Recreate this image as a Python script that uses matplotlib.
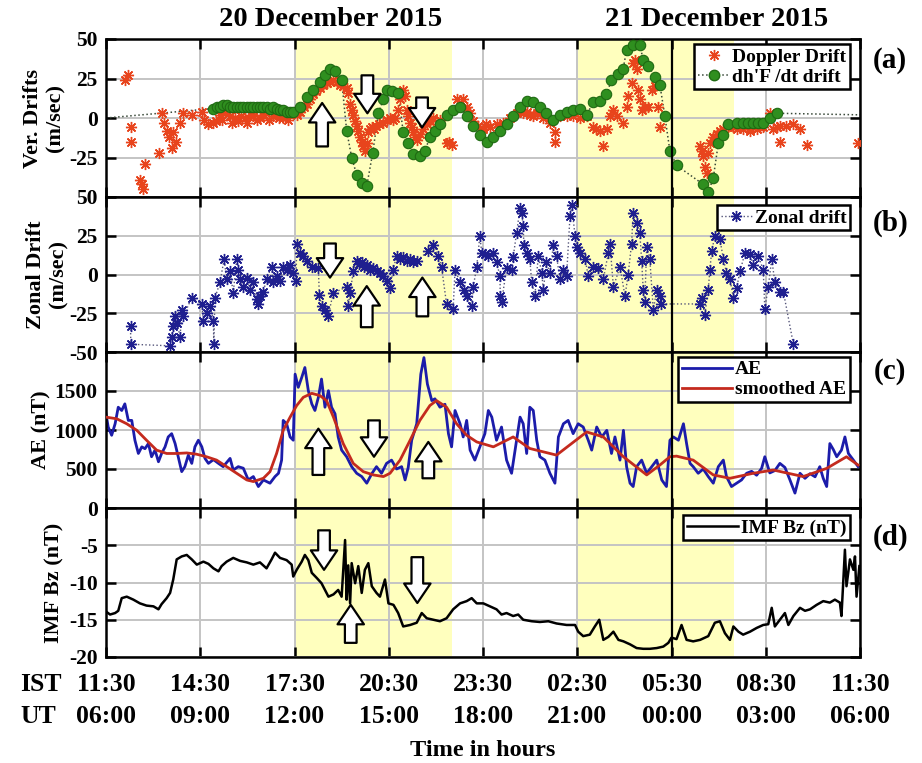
import matplotlib
matplotlib.use("Agg")
import matplotlib.pyplot as plt
import numpy as np
from matplotlib.lines import Line2D

plt.rcParams["font.family"] = ["Liberation Serif", "DejaVu Serif"]
plt.rcParams["font.weight"] = "bold"
plt.rcParams["axes.labelweight"] = "bold"

# Time axis: hours elapsed since 11:30 IST on 20 December 2015
tick_hours = [0, 3, 6, 9, 12, 15, 18, 21, 24]
ist_labels = ["11:30", "14:30", "17:30", "20:30", "23:30", "02:30", "05:30", "08:30", "11:30"]
ut_labels = ["06:00", "09:00", "12:00", "15:00", "18:00", "21:00", "00:00", "03:00", "06:00"]
storm_windows = [(6.0, 11.0), (15.0, 20.0)]
ut_midnight = 18.0

# (a) Doppler vertical drift (m/s)
doppler = [
    (0.60, 24), (0.69, 27), (0.78, -6), (0.79, -15), (1.08, -39), (1.14, -42), (1.19, -45),
    (1.24, -29), (1.69, -22), (1.78, 3), (1.85, -3), (1.93, -8), (2.00, -12), (2.09, -19),
    (2.14, -9), (2.23, -15), (2.36, -3), (2.44, 3), (2.73, 2), (3.05, 4), (3.12, -1),
    (3.26, -4), (3.42, -3), (3.50, -2), (3.63, 2), (3.70, -1), (3.80, 3), (3.95, 1),
    (4.00, -3), (4.10, 0), (4.21, -2), (4.30, 1), (4.42, 0), (4.50, -3), (4.60, 2),
    (4.69, 1), (4.80, -1), (4.90, 0), (5.01, 2), (5.10, 3), (5.20, -1), (5.33, 1),
    (5.40, 2), (5.50, 0), (5.64, 0), (5.70, 2), (5.80, -1), (5.91, 3), (6.07, 2),
    (6.17, 4), (6.30, 7), (6.39, 9), (6.50, 12), (6.60, 15), (6.70, 17), (6.81, 19),
    (6.92, 21), (7.02, 22), (7.13, 23), (7.24, 24), (7.35, 23), (7.45, 21), (7.55, 20),
    (7.66, 19), (7.71, 16), (7.77, 9), (7.82, 5), (7.87, 2), (7.93, -2), (7.98, -5),
    (8.03, -8), (8.08, -12), (8.14, -15), (8.19, -18), (8.24, -21), (8.30, -16),
    (8.35, -9), (8.40, -7), (8.46, -6), (8.53, -7), (8.61, -5), (8.70, -4), (8.83, -3),
    (8.93, -1), (9.04, 0), (9.12, -1), (9.20, 0), (9.30, 5), (9.36, 12), (9.46, 18),
    (9.52, 14), (9.57, 5), (9.62, 1), (9.68, -3), (9.73, -6), (9.78, -9), (9.84, -12),
    (9.89, -14), (9.99, -10), (10.10, -7), (10.21, -4), (10.31, -2), (10.42, 0),
    (10.63, -1), (10.84, -16), (10.92, -15), (11.00, -17), (11.16, 12), (11.37, 12),
    (11.48, 7), (11.59, 3), (11.69, -2), (11.85, -5), (12.01, -7), (12.10, -4),
    (12.22, -6), (12.43, -4), (12.65, -3), (12.86, 0), (13.07, 3), (13.18, 5),
    (13.28, 3), (13.40, 4), (13.49, 2), (13.60, 1), (13.71, 3), (13.92, 0), (14.13, -3),
    (14.29, -9), (14.30, -15), (14.45, 1), (14.66, 1), (14.87, 1), (15.09, 0), (15.30, 1),
    (15.51, -6), (15.60, -7), (15.72, -8), (15.83, -18), (15.94, -7), (16.04, 1),
    (16.15, 5), (16.25, 1), (16.47, -3), (16.57, 7), (16.62, 14), (16.73, 22),
    (16.78, 35), (16.84, 37), (16.89, 31), (16.94, 18), (17.00, 12), (17.05, 5),
    (17.16, 7), (17.26, 7), (17.37, 18), (17.47, 20), (17.58, 7), (17.63, -6),
    (18.91, -18), (18.96, -21), (19.01, -24), (19.06, -31), (19.12, -35), (19.17, -22),
    (19.22, -16), (19.33, -12), (19.44, -10), (19.55, -8), (19.65, -7), (19.81, -6),
    (19.95, -6), (20.07, -7), (20.18, -6), (20.28, -7), (20.40, -6), (20.50, -8),
    (20.60, -6), (20.71, -7), (20.82, -6), (20.92, -6), (21.13, 3), (21.24, -7),
    (21.35, -6), (21.45, -5), (21.45, -15), (21.66, -5), (21.88, -4), (22.09, -7),
    (22.30, -17), (23.94, -16),
]

# (a) dh'F/dt vertical drift (m/s)
dhf_drift = [
    (3.42, 6), (3.53, 7), (3.63, 7), (3.74, 8), (3.84, 8), (3.95, 7), (4.05, 7),
    (4.16, 7), (4.27, 7), (4.37, 7), (4.48, 7), (4.58, 7), (4.69, 7), (4.80, 7),
    (4.90, 7), (5.01, 7), (5.11, 7), (5.22, 6), (5.33, 7), (5.43, 6), (5.54, 5),
    (5.64, 5), (5.75, 4), (5.85, 4), (5.96, 4), (6.17, 7), (6.39, 13), (6.60, 18),
    (6.81, 23), (6.97, 27), (7.13, 31), (7.29, 30), (7.50, 24), (7.66, -8), (7.82, -25),
    (7.98, -36), (8.14, -41), (8.30, -43), (8.49, -22), (8.67, 3), (8.83, 12), (8.93, 18),
    (9.09, 17), (9.30, 16), (9.46, -9), (9.62, -16), (9.78, -23), (9.99, -24),
    (10.15, -21), (10.31, -12), (10.47, -8), (10.63, -4), (10.84, 2), (11.05, 5),
    (11.27, 7), (11.48, 1), (11.69, -5), (11.90, -11), (12.12, -15), (12.33, -12),
    (12.54, -8), (12.75, -4), (12.96, 1), (13.18, 7), (13.39, 11), (13.60, 10),
    (13.81, 7), (14.02, 3), (14.24, -1), (14.45, 2), (14.66, 4), (14.87, 5), (15.09, 6),
    (15.30, 2), (15.51, 10), (15.72, 11), (15.93, 15), (16.09, 24), (16.30, 28),
    (16.46, 31), (16.57, 43), (16.78, 46), (16.99, 46), (17.10, 37), (17.26, 33),
    (17.47, 26), (17.63, 21), (17.79, 1), (17.95, -21), (18.16, -30), (19.01, -42),
    (19.17, -47), (19.33, -38), (19.49, -16), (19.65, -11), (19.81, -4), (20.07, -3),
    (20.28, -3), (20.45, -3), (20.60, -3), (20.76, -3), (20.92, -3), (21.13, 0),
    (21.35, 3),
]
# ends of the dotted trace outside the sounding interval
dhf_trace_start = (0.0, 0.0)
dhf_trace_end = (24.0, 2.0)

# (b) zonal drift (m/s)
zonal = [
    (0.78, -33), (0.79, -45), (2.04, -46), (2.09, -40), (2.14, -33), (2.20, -27),
    (2.25, -31), (2.36, -40), (2.41, -23), (2.46, -27), (2.73, -15), (3.05, -19),
    (3.10, -30), (3.20, -25), (3.31, -20), (3.42, -30), (3.43, -45), (3.47, -15),
    (3.63, -5), (3.76, 10), (3.84, -3), (3.95, 2), (4.05, -12), (4.16, 10), (4.21, 3),
    (4.27, -3), (4.37, -8), (4.48, -2), (4.58, -10), (4.69, -5), (4.80, -16),
    (4.85, -19), (4.90, -14), (5.01, -11), (5.11, -3), (5.27, 5), (5.33, -5),
    (5.43, -1), (5.54, -4), (5.64, 5), (5.75, 3), (5.86, 6), (5.96, 1), (6.05, -4),
    (6.07, 20), (6.17, 14), (6.28, 12), (6.39, 9), (6.55, 5), (6.76, 4), (6.79, -13),
    (6.86, -20), (6.97, -23), (7.07, -27), (7.23, -12), (7.66, -8), (7.71, -20),
    (7.77, -12), (7.87, 2), (7.98, 9), (8.06, 7), (8.14, 8), (8.22, 5), (8.30, 6),
    (8.40, 3), (8.51, 4), (8.62, 2), (8.72, 1), (8.83, -1), (8.93, -4), (9.04, -9),
    (9.14, 3), (9.25, 12), (9.35, 10), (9.46, 11), (9.57, 9), (9.68, 10), (9.78, 8),
    (9.89, 9), (10.26, 15), (10.42, 19), (10.58, 12), (10.68, 5), (10.84, -19),
    (11.05, -22), (11.11, 3), (11.27, -5), (11.38, -10), (11.48, -14), (11.64, -20),
    (11.69, -8), (11.80, 5), (11.90, 25), (11.96, 14), (12.06, 13), (12.17, 12),
    (12.33, 14), (12.43, 8), (12.54, -1), (12.55, -14), (12.59, -18), (12.75, 4),
    (12.91, 3), (12.96, 11), (13.07, 27), (13.18, 43), (13.23, 40), (13.28, 31),
    (13.30, 19), (13.39, 14), (13.49, 10), (13.55, -5), (13.65, -14), (13.76, 12),
    (13.87, 1), (13.92, -10), (14.02, 8), (14.13, 1), (14.24, 19), (14.34, 12),
    (14.45, -3), (14.55, 3), (14.66, -1), (14.77, 38), (14.82, 45), (14.93, 25),
    (14.98, 18), (15.09, 14), (15.25, 10), (15.35, -1), (15.51, 5), (15.67, 4),
    (15.83, -3), (15.99, 14), (16.04, 20), (16.15, -8), (16.36, 5), (16.52, -14),
    (16.62, 0), (16.73, 20), (16.78, 40), (16.89, 33), (16.99, 27), (17.05, 9),
    (17.10, -10), (17.15, -18), (17.21, 18), (17.31, 10), (17.42, -23), (17.53, -10),
    (17.63, -14), (17.68, -19), (18.91, -19), (18.96, -15), (19.06, -26), (19.17, -10),
    (19.22, 3), (19.28, 15), (19.38, 25), (19.54, 23), (19.65, 10), (19.75, 1),
    (19.86, -3), (19.97, -15), (20.07, -9), (20.18, 2), (20.34, 14), (20.50, 13),
    (20.60, 6), (20.76, 12), (20.92, 3), (20.97, -22), (21.08, -8), (21.19, 10),
    (21.29, -5), (21.45, -11), (21.56, -11), (21.88, -45),
]

# (c) AE index (nT)
ae = [
    (0.00, 1208), (0.07, 1038), (0.18, 932), (0.29, 1080), (0.39, 1292), (0.50, 1250),
    (0.60, 1335), (0.71, 1123), (0.82, 1123), (0.92, 869), (1.03, 699), (1.14, 784),
    (1.24, 760), (1.35, 826), (1.45, 657), (1.56, 742), (1.67, 593), (1.77, 699),
    (1.88, 784), (1.98, 911), (2.09, 953), (2.20, 826), (2.30, 657), (2.41, 466),
    (2.51, 530), (2.62, 678), (2.73, 572), (2.83, 784), (2.94, 869), (3.05, 784),
    (3.15, 636), (3.26, 572), (3.42, 620), (3.58, 572), (3.73, 530), (3.95, 636),
    (4.05, 487), (4.21, 530), (4.37, 510), (4.53, 360), (4.69, 403), (4.85, 275),
    (5.01, 360), (5.22, 318), (5.38, 403), (5.49, 445), (5.59, 614), (5.64, 1123),
    (5.75, 1080), (5.86, 911), (5.96, 869), (6.02, 1716), (6.12, 1547), (6.23, 1674),
    (6.33, 1801), (6.44, 1504), (6.55, 1335), (6.65, 1250), (6.76, 1419), (6.86, 1653),
    (6.97, 1292), (7.08, 1504), (7.18, 1292), (7.29, 1208), (7.39, 911), (7.50, 742),
    (7.66, 657), (7.82, 530), (7.98, 445), (8.14, 403), (8.30, 318), (8.46, 440),
    (8.61, 530), (8.77, 445), (8.93, 572), (9.09, 614), (9.25, 500), (9.41, 530),
    (9.52, 360), (9.62, 520), (9.73, 869), (9.89, 1080), (10.02, 1716), (10.12, 1928),
    (10.23, 1589), (10.37, 1377), (10.47, 1400), (10.63, 1292), (10.79, 1330),
    (10.90, 953), (11.00, 784), (11.11, 1250), (11.27, 1080), (11.37, 911), (11.48, 1123),
    (11.59, 742), (11.74, 614), (11.90, 784), (12.06, 953), (12.17, 1250), (12.28, 1165),
    (12.43, 869), (12.59, 1038), (12.75, 614), (12.91, 445), (13.07, 869), (13.18, 1165),
    (13.28, 1080), (13.39, 699), (13.49, 1292), (13.60, 1250), (13.71, 869), (13.81, 657),
    (13.97, 614), (14.13, 445), (14.29, 318), (14.40, 911), (14.56, 1080), (14.71, 1123),
    (14.87, 953), (15.03, 1080), (15.19, 1038), (15.35, 869), (15.46, 742), (15.62, 1038),
    (15.78, 911), (15.94, 996), (16.09, 699), (16.20, 911), (16.36, 614), (16.47, 996),
    (16.57, 530), (16.68, 318), (16.78, 275), (16.89, 530), (17.05, 614), (17.21, 445),
    (17.37, 530), (17.53, 614), (17.69, 360), (17.84, 275), (17.95, 869), (18.06, 911),
    (18.22, 869), (18.38, 1080), (18.48, 826), (18.59, 572), (18.69, 530), (18.85, 445),
    (19.01, 500), (19.17, 403), (19.33, 318), (19.49, 530), (19.65, 614), (19.75, 403),
    (19.91, 275), (20.07, 318), (20.23, 360), (20.39, 445), (20.55, 470), (20.71, 420),
    (20.87, 510), (20.97, 657), (21.13, 450), (21.29, 480), (21.45, 572), (21.61, 520),
    (21.77, 360), (21.93, 191), (22.09, 445), (22.25, 380), (22.41, 440), (22.57, 400),
    (22.72, 530), (22.83, 380), (22.94, 275), (23.04, 826), (23.15, 750), (23.26, 657),
    (23.41, 742), (23.52, 911), (23.63, 700), (23.79, 614), (23.94, 530),
]

# (c) smoothed AE (nT)
ae_smooth = [
    (0.00, 1165), (0.34, 1144), (0.66, 1080), (0.98, 996), (1.29, 869), (1.61, 742),
    (1.93, 699), (2.25, 699), (2.57, 706), (2.88, 690), (3.20, 657), (3.52, 614),
    (3.84, 530), (4.16, 445), (4.48, 360), (4.69, 339), (5.01, 381), (5.22, 466),
    (5.43, 699), (5.64, 996), (5.86, 1165), (6.07, 1314), (6.28, 1419), (6.55, 1470),
    (6.81, 1441), (7.02, 1377), (7.24, 1165), (7.55, 826), (7.87, 572), (8.19, 466),
    (8.51, 424), (8.83, 403), (9.04, 445), (9.36, 614), (9.68, 869), (9.99, 1123),
    (10.31, 1314), (10.52, 1377), (10.84, 1292), (11.16, 1080), (11.48, 932),
    (11.80, 847), (12.33, 784), (12.96, 911), (13.49, 763), (14.34, 678), (15.30, 975),
    (15.83, 911), (16.47, 657), (17.21, 424), (17.63, 551), (17.95, 657), (18.16, 665),
    (18.69, 614), (19.33, 424), (19.86, 381), (20.60, 445), (21.24, 487), (22.19, 403),
    (22.94, 508), (23.57, 657), (23.94, 551),
]

# (d) IMF Bz (nT)
imf_bz = [
    (0.00, -13.9), (0.13, -14.3), (0.29, -14.1), (0.39, -13.8), (0.50, -12.1),
    (0.66, -11.9), (0.87, -12.3), (1.08, -12.8), (1.29, -13.1), (1.51, -13.2),
    (1.67, -13.6), (1.77, -12.9), (1.93, -12.1), (2.04, -11.4), (2.14, -9.6),
    (2.25, -6.9), (2.41, -6.5), (2.57, -6.3), (2.73, -6.9), (2.89, -7.6), (3.10, -7.2),
    (3.26, -7.5), (3.42, -8.1), (3.58, -8.5), (3.68, -7.8), (3.84, -7.2), (4.05, -6.7),
    (4.27, -7.1), (4.48, -7.3), (4.69, -7.6), (4.90, -7.3), (5.11, -8.1), (5.27, -6.9),
    (5.38, -6.0), (5.54, -6.7), (5.75, -7.0), (5.91, -7.6), (5.96, -9.2), (6.07, -8.3),
    (6.23, -7.2), (6.33, -6.3), (6.44, -7.0), (6.55, -8.7), (6.71, -9.4), (6.86, -10.1),
    (7.08, -11.9), (7.24, -11.6), (7.39, -11.0), (7.50, -11.9), (7.61, -4.3),
    (7.66, -12.3), (7.71, -7.7), (7.77, -12.8), (7.82, -7.4), (7.93, -10.1),
    (8.03, -7.8), (8.14, -11.4), (8.24, -8.3), (8.35, -7.4), (8.46, -10.5),
    (8.61, -11.4), (8.72, -11.9), (8.88, -9.6), (8.99, -12.8), (9.15, -13.0),
    (9.30, -14.1), (9.46, -15.9), (9.68, -15.7), (9.89, -15.4), (10.05, -14.1),
    (10.21, -14.8), (10.42, -15.0), (10.63, -15.2), (10.84, -14.8), (11.05, -13.6),
    (11.27, -12.8), (11.48, -12.5), (11.64, -12.1), (11.80, -12.8), (12.01, -12.8),
    (12.22, -13.2), (12.43, -13.6), (12.59, -14.3), (12.75, -14.1), (12.96, -14.5),
    (13.12, -14.3), (13.28, -15.0), (13.55, -15.2), (13.81, -15.3), (14.08, -15.2),
    (14.34, -15.5), (14.66, -15.7), (14.93, -15.7), (15.03, -16.6), (15.19, -17.2),
    (15.40, -17.0), (15.56, -15.9), (15.70, -15.0), (15.83, -17.7), (15.99, -17.3),
    (16.15, -16.6), (16.31, -17.7), (16.47, -17.9), (16.68, -18.3), (16.89, -18.8),
    (17.10, -18.9), (17.31, -18.9), (17.53, -18.8), (17.74, -18.6), (17.90, -18.1),
    (18.00, -17.4), (18.16, -17.6), (18.32, -15.7), (18.48, -17.7), (18.69, -17.9),
    (18.91, -17.7), (19.17, -17.2), (19.38, -15.4), (19.54, -15.2), (19.70, -16.8),
    (19.86, -17.7), (19.97, -15.9), (20.13, -16.6), (20.28, -17.0), (20.50, -16.6),
    (20.71, -16.1), (20.92, -15.7), (21.08, -15.6), (21.19, -13.4), (21.29, -15.9),
    (21.45, -15.0), (21.61, -14.1), (21.72, -15.7), (21.88, -14.5), (22.09, -13.4),
    (22.25, -13.8), (22.41, -13.6), (22.62, -13.0), (22.83, -12.5), (23.04, -12.7),
    (23.20, -12.3), (23.36, -12.7), (23.41, -14.5), (23.52, -5.6), (23.57, -10.5),
    (23.68, -6.9), (23.79, -8.3), (23.84, -6.5), (23.89, -11.9), (23.98, -7.8),
]

# hollow arrows marking features: (time, tip value, tail value)
arrows_a = [(6.88, 9.5, -18), (8.32, 3, 27), (10.06, -6, 13)]
arrows_b = [(7.13, -2, 20), (8.30, -7.5, -34), (10.07, -2, -27)]
arrows_c = [(6.76, 1017, 424), (8.53, 657, 1123), (10.26, 847, 381)]
arrows_d = [(6.94, -8.3, -3.0), (7.79, -13.0, -18.1), (9.91, -12.75, -6.6)]

c_doppler = "#e8441c"
c_dhf = "#2f8f1f"
c_dhf_edge = "#1f6a12"
c_zonal = "#1f1f8f"
c_ae = "#1c1caa"
c_ae_smooth = "#c42a1e"
c_shade = "#ffffbe"
c_grid = "#c4c4c4"
asterisk = (8, 2, 0)

W, H = 922, 763
fig = plt.figure(figsize=(W / 100, H / 100), dpi=100)
x0, x1 = 106, 860
edges = [39, 197, 352, 508, 657]
axes = []
for i in range(4):
    rect = [x0 / W, 1 - edges[i + 1] / H, (x1 - x0) / W, (edges[i + 1] - edges[i]) / H]
    axes.append(fig.add_axes(rect))
ax_a, ax_b, ax_c, ax_d = axes


def xy(series):
    arr = np.array(series, dtype=float)
    return arr[:, 0], arr[:, 1]


for ax in axes:
    for lo, hi in storm_windows:
        ax.axvspan(lo, hi, color=c_shade, zorder=0, lw=0)
    ax.axvline(ut_midnight, color="black", lw=1.6, zorder=4)
    ax.set_xlim(0, 24)
    ax.set_xticks(tick_hours)
    ax.grid(True, color=c_grid, lw=1.4, zorder=0.5)
    ax.set_axisbelow(True)
    ax.tick_params(direction="in", top=True, right=True, length=7, width=1.8,
                   labelsize=15.5, pad=6)
    for sp in ax.spines.values():
        sp.set_linewidth(1.8)
    ax.set_xticklabels([])

# ---- (a) vertical drifts
t, v = xy(doppler)
ax_a.plot(t, v, ls="none", marker=asterisk, ms=8, mew=1.0, color=c_doppler,
          zorder=3, label="Doppler Drift")
t, v = xy(dhf_drift)
tl = np.concatenate([[dhf_trace_start[0]], t, [dhf_trace_end[0]]])
vl = np.concatenate([[dhf_trace_start[1]], v, [dhf_trace_end[1]]])
ax_a.plot(tl, vl, ls=":", lw=1.1, color="#3a4a3a", zorder=2)
ax_a.plot(t, v, ls="none", marker="o", ms=7.5, mfc=c_dhf, mec=c_dhf_edge, mew=0.8,
          zorder=3.5)
ax_a.set_ylim(-50, 50)
ax_a.set_yticks([-50, -25, 0, 25, 50])
ax_a.set_yticklabels(["", "-25", "0", "25", "50"])
ax_a.set_ylabel("Ver. Drifts\n(m/sec)", fontsize=16, va="center", linespacing=1.15)
ax_a.yaxis.set_label_coords(-0.082, 0.5)
leg_a = [
    Line2D([], [], ls="none", marker=asterisk, ms=8, mew=1.0, color=c_doppler),
    Line2D([], [], ls=":", lw=1.1, color="#3a4a3a", marker="o", ms=7.5, mfc=c_dhf,
           mec=c_dhf_edge),
]
ax_a.legend(leg_a, ["Doppler Drift", "dh'F /dt drift"])

# ---- (b) zonal drift
t, v = xy(zonal)
ax_b.plot(t, v, ls=":", lw=1.0, color="#55557a", zorder=2)
ax_b.plot(t, v, ls="none", marker=asterisk, ms=8, mew=1.0, color=c_zonal, zorder=3)
ax_b.set_ylim(-50, 50)
ax_b.set_yticks([-50, -25, 0, 25, 50])
ax_b.set_yticklabels(["-50", "-25", "0", "25", "50"])
ax_b.set_ylabel("Zonal Drift\n(m/sec)", fontsize=16, va="center", linespacing=1.15)
ax_b.yaxis.set_label_coords(-0.078, 0.5)
leg_b = [Line2D([], [], ls=":", lw=1.0, color="#55557a", marker=asterisk, ms=8,
                mew=1.0, mec=c_zonal)]
ax_b.legend(leg_b, ["Zonal drift"])

# ---- (c) AE
t, v = xy(ae)
ax_c.plot(t, v, color=c_ae, lw=2.0, zorder=2)
t, v = xy(ae_smooth)
ax_c.plot(t, v, color=c_ae_smooth, lw=2.0, zorder=3)
ax_c.set_ylim(0, 2000)
ax_c.set_yticks([0, 500, 1000, 1500, 2000])
ax_c.set_yticklabels(["", "500", "1000", "1500", ""])
ax_c.set_ylabel("AE (nT)", fontsize=16, va="center")
ax_c.yaxis.set_label_coords(-0.085, 0.5)
leg_c = [Line2D([], [], color=c_ae, lw=2.0), Line2D([], [], color=c_ae_smooth, lw=2.0)]
ax_c.legend(leg_c, ["AE", "smoothed AE"])

# ---- (d) IMF Bz
t, v = xy(imf_bz)
ax_d.plot(t, v, color="black", lw=1.8, zorder=3)
ax_d.set_ylim(-20, 0)
ax_d.set_yticks([-20, -15, -10, -5, 0])
ax_d.set_yticklabels(["-20", "-15", "-10", "-5", "0"])
ax_d.set_ylabel("IMF Bz (nT)", fontsize=16, va="center")
ax_d.yaxis.set_label_coords(-0.068, 0.5)
leg_d = [Line2D([], [], color="black", lw=1.8)]
ax_d.legend(leg_d, ["IMF Bz (nT)"])

# legend frames: square, black outline, pinned to the upper-right corner
legend_tops = {ax_a: 0.968, ax_b: 0.948, ax_c: 0.968, ax_d: 0.953}
for ax in axes:
    handles = ax.get_legend().legend_handles
    labels = [tx.get_text() for tx in ax.get_legend().get_texts()]
    hl = 2.6 if ax in (ax_c, ax_d) else 1.6
    lg = ax.legend(handles, labels, loc="upper right",
                   bbox_to_anchor=(0.987, legend_tops[ax]), borderaxespad=0,
                   fancybox=False, framealpha=1, edgecolor="black",
                   prop={"family": "Liberation Serif", "weight": "bold", "size": 14},
                   handlelength=hl, handletextpad=0.15, labelspacing=0.12,
                   borderpad=0.2)
    lg.get_frame().set_linewidth(1.8)
    lg.set_zorder(6)

# hollow arrows
arrow_style = "simple,head_length=0.7,head_width=0.95,tail_width=0.42"
for ax, marks in ((ax_a, arrows_a), (ax_b, arrows_b), (ax_c, arrows_c), (ax_d, arrows_d)):
    for h, tip, tail in marks:
        ax.annotate("", xy=(h, tip), xytext=(h, tail),
                    arrowprops=dict(arrowstyle=arrow_style, fc="white", ec="black",
                                    lw=1.6, shrinkA=0, shrinkB=0, mutation_scale=20),
                    zorder=5)

# panel tags
tag_y = {ax_a: 0.867, ax_b: 0.832, ax_c: 0.872, ax_d: 0.805}
for ax, tag in zip(axes, ["(a)", "(b)", "(c)", "(d)"]):
    ax.text(1.04, tag_y[ax], tag, transform=ax.transAxes, ha="center", va="center",
            fontsize=21, fontweight="bold")

# time axis labels (IST over UT)
ax_d.set_xticklabels([f"{a}\n{b}" for a, b in zip(ist_labels, ut_labels)],
                     fontsize=18.5, linespacing=1.5)
ax_d.tick_params(axis="x", pad=11.5)
ax_d.annotate("IST\nUT", xy=(0, 0), xycoords="axes fraction",
              xytext=(-86 * 0.72, -11.5), textcoords="offset points",
              ha="left", va="top", fontsize=18.5, fontweight="bold", linespacing=1.5)
ax_d.set_xlabel("Time in hours", fontsize=17.5, va="center")
ax_d.xaxis.set_label_coords((483 - x0) / (x1 - x0), -0.63)

# dates
fig.text(331 / W, 1 - 20 / H, "20 December 2015", ha="center", va="center",
         fontsize=20.5, fontweight="bold")
fig.text(717 / W, 1 - 20 / H, "21 December 2015", ha="center", va="center",
         fontsize=20.5, fontweight="bold")

fig.savefig("out.png", dpi=100)
